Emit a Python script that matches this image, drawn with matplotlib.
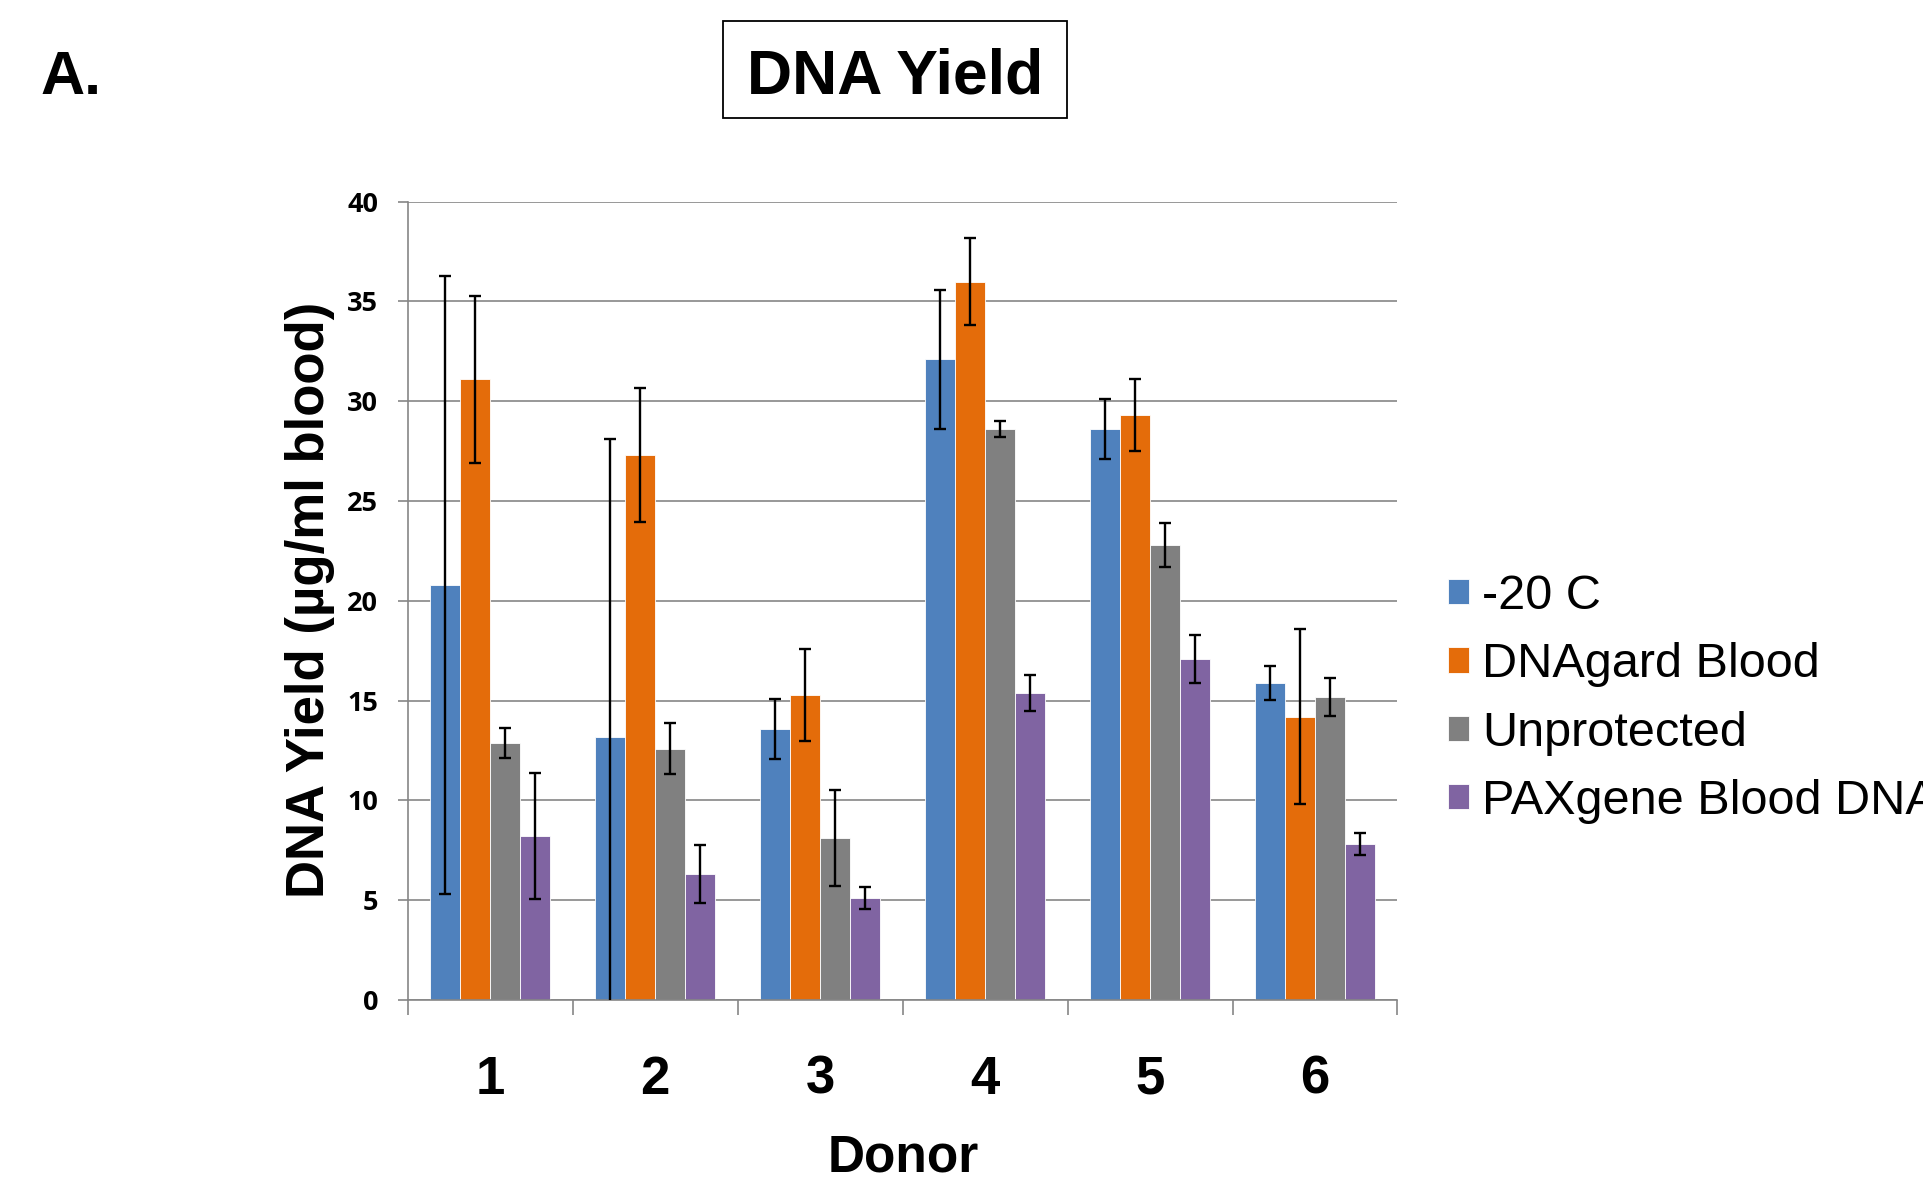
import matplotlib
matplotlib.use("Agg")
import numpy as np
import matplotlib.pyplot as plt
from matplotlib.patches import Rectangle

# data
donors = ["1", "2", "3", "4", "5", "6"]
series = ["-20 C", "DNAgard Blood", "Unprotected", "PAXgene Blood DNA"]
colors = ["#4F81BD", "#E46C0A", "#808080", "#8064A2"]

minus20 = [20.8, 13.2, 13.6, 32.1, 28.6, 15.9]
dnagard = [31.1, 27.3, 15.3, 36.0, 29.3, 14.2]
unprot = [12.9, 12.6, 8.1, 28.6, 22.8, 15.2]
paxgene = [8.2, 6.3, 5.1, 15.4, 17.1, 7.8]

err_minus20 = [15.5, 14.9, 1.5, 3.5, 1.5, 0.85]
err_dnagard = [4.2, 3.35, 2.3, 2.2, 1.8, 4.4]
err_unprot = [0.75, 1.3, 2.4, 0.4, 1.1, 0.95]
err_paxgene = [3.15, 1.45, 0.55, 0.9, 1.2, 0.55]

values = [minus20, dnagard, unprot, paxgene]
errors = [err_minus20, err_dnagard, err_unprot, err_paxgene]

# figure
W, H = 1924, 1181
fig = plt.figure(figsize=(W / 100, H / 100), dpi=100)
ax = fig.add_axes([407.7 / W, 1 - 1000 / H, (1397.5 - 407.7) / W, (1000 - 201.7) / H])

grid_c = "#868686"
x = np.arange(len(donors))
bw = 1 / 5.5
for i, (vals, errs) in enumerate(zip(values, errors)):
    pos = x + (i - 1.5) * bw
    ax.bar(pos, vals, width=bw, color=colors[i], edgecolor="white",
           linewidth=0.6, label=series[i], zorder=2)
    ax.errorbar(pos, vals, yerr=errs, fmt="none", ecolor="black",
                elinewidth=1.7, capsize=4.5, capthick=1.7, zorder=3)

ax.set_xlim(-0.5, 5.5)
ax.set_ylim(0, 40)
ax.set_yticks(range(0, 41, 5))
ax.yaxis.grid(True, color=grid_c, linewidth=1.2, zorder=0)
ax.set_axisbelow(True)

for s in ["top", "right"]:
    ax.spines[s].set_visible(False)
for s in ["left", "bottom"]:
    ax.spines[s].set_color(grid_c)
    ax.spines[s].set_linewidth(1.2)

ax.set_xticks(x)
ax.set_xticklabels(donors, fontfamily="Liberation Sans", fontweight="bold", fontsize=38)
ax.tick_params(axis="x", which="major", length=0, pad=39.5)
ax.set_xticks(np.arange(-0.5, 6, 1), minor=True)
ax.tick_params(axis="x", which="minor", length=10.8, width=1.2, color=grid_c)

ax.tick_params(axis="y", length=7.2, width=1.2, color=grid_c, pad=14)
ax.set_yticklabels([str(v) for v in range(0, 41, 5)],
                   fontfamily="Open Sans", fontweight="bold", fontsize=19.5)

# labels
fig.text(903 / W, 1 - 1172 / H, "Donor", ha="center", va="baseline",
         fontfamily="Liberation Sans", fontweight="bold", fontsize=37)
fig.text(324 / W, 1 - 600 / H, "DNA Yield (µg/ml blood)", rotation=90,
         rotation_mode="anchor", ha="center", va="baseline",
         fontfamily="Liberation Sans", fontweight="bold", fontsize=38)

# title box and panel letter
fig.patches.append(Rectangle((723 / W, 1 - 118 / H), 344 / W, 97 / H,
                             transform=fig.transFigure, fill=False,
                             edgecolor="black", linewidth=1.3))
fig.text(895 / W, 1 - 93 / H, "DNA Yield", ha="center", va="baseline",
         fontfamily="Liberation Sans", fontweight="bold", fontsize=45)
fig.text(40 / W, 1 - 94.5 / H, "A.", ha="left", va="baseline",
         fontfamily="Liberation Sans", fontweight="bold", fontsize=44)

# legend
fig.legend(loc="center left", bbox_to_anchor=(1448 / W, 1 - 699 / H),
           frameon=False, borderpad=0, borderaxespad=0,
           prop={"family": "Liberation Sans", "size": 35},
           handlelength=0.43, handleheight=0.43, handletextpad=0.27,
           labelspacing=0.48)

fig.savefig("out.png", dpi=100)
